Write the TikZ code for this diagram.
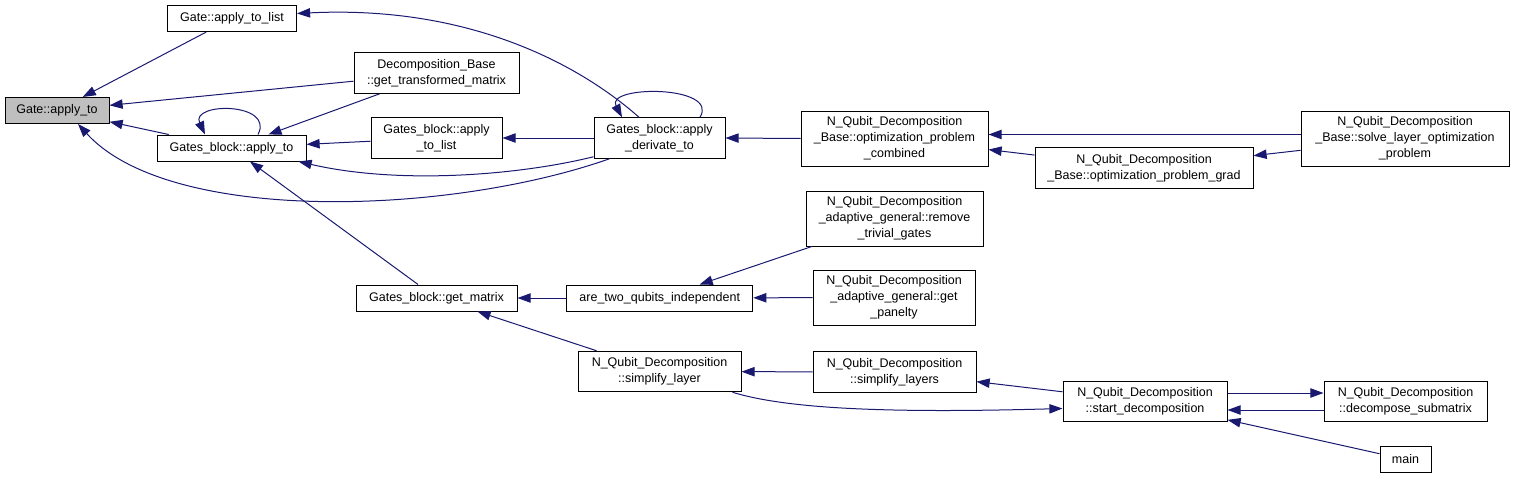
\documentclass[tikz,border=0pt]{standalone}
\usepackage{fontspec}
\setmainfont{Liberation Sans}
\usepackage{xcolor}
\usepackage{tikz}
\usetikzlibrary{positioning, arrows.meta}
\definecolor{callblue}{HTML}{191970}
\definecolor{focusgrey}{HTML}{BFBFBF}

\begin{document}
\begin{tikzpicture}[x=0.8pt, y=-0.8pt,
    fn/.style={draw=black, line width=0.8pt, fill=white, inner sep=0pt, align=center,
      font=\fontsize{10}{12.8}\selectfont, minimum height=20.8pt},
    fntwo/.style={fn, minimum height=32.4pt},
    fnthree/.style={fn, minimum height=44pt},
    calls/.style={draw=callblue, line width=0.8pt, -{Triangle[length=10.5pt, width=7.5pt]}}]
    \useasboundingbox (0,0) rectangle (1515,479);

    \node[fn, fill=focusgrey, minimum width=83.2pt] (gateapply) at (57,110.5) {Gate::apply\_to};
    \node[fn, minimum width=103.2pt] (alist) at (232,18.5) {Gate::apply\_to\_list};
    \node[fntwo, minimum width=132pt] (transformed) at (436.5,73) {Decomposition\_Base\\::get\_transformed\_matrix};
    \node[fn, minimum width=119.2pt] (gbapply) at (231.5,148) {Gates\_block::apply\_to};
    \node[fntwo, minimum width=104.8pt] (gblist) at (436.5,138) {Gates\_block::apply\\\_to\_list};
    \node[fntwo, minimum width=104.8pt] (derivate) at (659.5,138) {Gates\_block::apply\\\_derivate\_to};
    \node[fnthree, minimum width=149.6pt] (combined) at (894.5,138.5) {N\_Qubit\_Decomposition\\\_Base::optimization\_problem\\\_combined};
    \node[fntwo, minimum width=174.4pt] (grad) at (1144,168) {N\_Qubit\_Decomposition\\\_Base::optimization\_problem\_grad};
    \node[fnthree, minimum width=166.4pt] (solve) at (1405,138.5) {N\_Qubit\_Decomposition\\\_Base::solve\_layer\_optimization\\\_problem};
    \node[fnthree, minimum width=141.6pt] (remove) at (894.5,218.5) {N\_Qubit\_Decomposition\\\_adaptive\_general::remove\\\_trivial\_gates};
    \node[fnthree, minimum width=129.6pt] (panelty) at (894,297.5) {N\_Qubit\_Decomposition\\\_adaptive\_general::get\\\_panelty};
    \node[fn, minimum width=128.8pt] (getmatrix) at (436.5,298) {Gates\_block::get\_matrix};
    \node[fn, minimum width=148.8pt] (aretwo) at (659.75,298) {are\_two\_qubits\_independent};
    \node[fntwo, minimum width=130.4pt] (simplayer) at (659.5,371.5) {N\_Qubit\_Decomposition\\::simplify\_layer};
    \node[fntwo, minimum width=130.4pt] (simplayers) at (894.5,372) {N\_Qubit\_Decomposition\\::simplify\_layers};
    \node[fntwo, minimum width=131.2pt] (startdec) at (1145,401.5) {N\_Qubit\_Decomposition\\::start\_decomposition};
    \node[fntwo, minimum width=130.4pt] (decomp) at (1405.5,401.5) {N\_Qubit\_Decomposition\\::decompose\_submatrix};
    \node[fn, minimum width=40.8pt] (main) at (1405.5,459.5) {main};

    \draw[calls] (alist) -- (gateapply);
    \draw[calls] (transformed) -- (gateapply);
    \draw[calls] (gbapply) -- (gateapply);
    \draw[calls] ([xshift=12.8pt]derivate.south west) .. controls (450,215) and (170,225) .. ([xshift=16.8pt]gateapply.south);
    \draw[calls] ([xshift=-16.4pt]derivate.north) .. controls (580,65) and (470,5) .. ([yshift=4pt]alist.east);
    \draw[calls] ([xshift=21.2pt]gbapply.north) .. controls (275,102) and (190,102) .. ([xshift=-21.2pt]gbapply.north);
    \draw[calls] (transformed) -- (gbapply);
    \draw[calls] (gblist) -- (gbapply);
    \draw[calls] ([yshift=1.6pt]derivate.south west) .. controls (520,175) and (400,185) .. ([xshift=-6.4pt]gbapply.south east);
    \draw[calls] (getmatrix) -- (gbapply);
    \draw[calls] (derivate) -- (gblist);
    \draw[calls] ([xshift=32.4pt]derivate.north) .. controls (720,85) and (605,85) .. ([xshift=-30pt]derivate.north);
    \draw[calls] (combined.west) -- (derivate.east);
    \draw[calls] ([yshift=3.2pt]solve.west) -- ([yshift=3.2pt]combined.east);
    \draw[calls] (grad) -- (combined);
    \draw[calls] (solve) -- (grad);
    \draw[calls] (aretwo) -- (getmatrix);
    \draw[calls] (simplayer) -- (getmatrix);
    \draw[calls] (remove) -- (aretwo);
    \draw[calls] (panelty) -- (aretwo);
    \draw[calls] (simplayers) -- (simplayer);
    \draw[calls] (startdec) -- (simplayers);
    \draw[calls] ([xshift=-7.2pt]simplayer.south east) .. controls (790,410) and (900,413) .. ([yshift=-5.6pt]startdec.west);
    \draw[calls] ([yshift=6.8pt]startdec.east) -- ([yshift=6.8pt]decomp.west);
    \draw[calls] ([yshift=-6.8pt]decomp.west) -- ([yshift=-6.8pt]startdec.east);
    \draw[calls] (main) -- (startdec);
\end{tikzpicture}
\end{document}
